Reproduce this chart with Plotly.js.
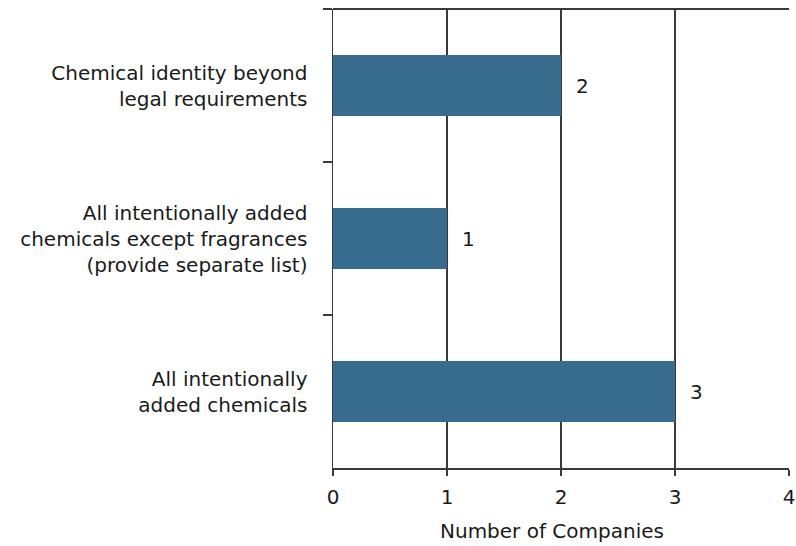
<!DOCTYPE html>
<html>
<head>
<meta charset="utf-8">
<script src="https://cdn.plot.ly/plotly-3.0.1.min.js"></script>
<style>html,body{margin:0;padding:0;background:#fff;}#chart{width:796px;height:546px;}</style>
</head>
<body>
<div id="chart"></div>
<script>
var categories = [
  "Chemical identity beyond<br>legal requirements",
  "All intentionally added<br>chemicals except fragrances<br>(provide separate list)",
  "All intentionally<br>added chemicals"
];
var companies = [2, 1, 3];
var xTicks = [0, 1, 2, 3, 4];
var xTitle = "Number of Companies";

var font = {family: "DejaVu Sans, Liberation Sans, sans-serif", size: 20, color: "#1a1a1a"};

var trace = {
  type: "bar",
  orientation: "h",
  x: companies,
  y: categories,
  width: 0.4,
  marker: {color: "#386C8E", line: {width: 0}},
  hoverinfo: "none"
};

var annotations = companies.map(function(v, i){
  return {x: v, y: categories[i], xref: "x", yref: "y", text: String(v),
          showarrow: false, xanchor: "left", xshift: 13, font: font};
});
annotations.push({text: xTitle, xref: "paper", yref: "paper", x: 0.48, y: 0,
                  yshift: -63, xanchor: "center", yanchor: "middle", showarrow: false, font: font});

var layout = {
  width: 796, height: 546,
  margin: {l: 333, r: 7, t: 9, b: 78},
  paper_bgcolor: "#fff", plot_bgcolor: "#fff",
  font: font,
  showlegend: false,
  xaxis: {
    range: [0, 4], tickvals: xTicks, ticktext: xTicks.map(String),
    showgrid: true, gridcolor: "#3a3a3a", gridwidth: 1.3,
    showline: true, linecolor: "#3a3a3a", linewidth: 2,
    ticks: "outside", ticklen: 6, tickwidth: 1.5, tickcolor: "#3a3a3a",
    ticklabelstandoff: 4,
    zeroline: false, fixedrange: true
  },
  yaxis: {
    type: "category", autorange: "reversed",
    tickson: "boundaries",
    showgrid: false, zeroline: false,
    showline: true, linecolor: "#3a3a3a", linewidth: 1.5,
    ticks: "outside", ticklen: 9, tickwidth: 1.5, tickcolor: "#3a3a3a",
    ticklabelstandoff: 20, fixedrange: true
  },
  shapes: [{type: "line", xref: "paper", yref: "paper", x0: 0, x1: 1, y0: 1, y1: 1,
            layer: "above", line: {color: "#3a3a3a", width: 2}}],
  annotations: annotations
};

Plotly.newPlot("chart", [trace], layout, {staticPlot: true, displayModeBar: false});
</script>
</body>
</html>
